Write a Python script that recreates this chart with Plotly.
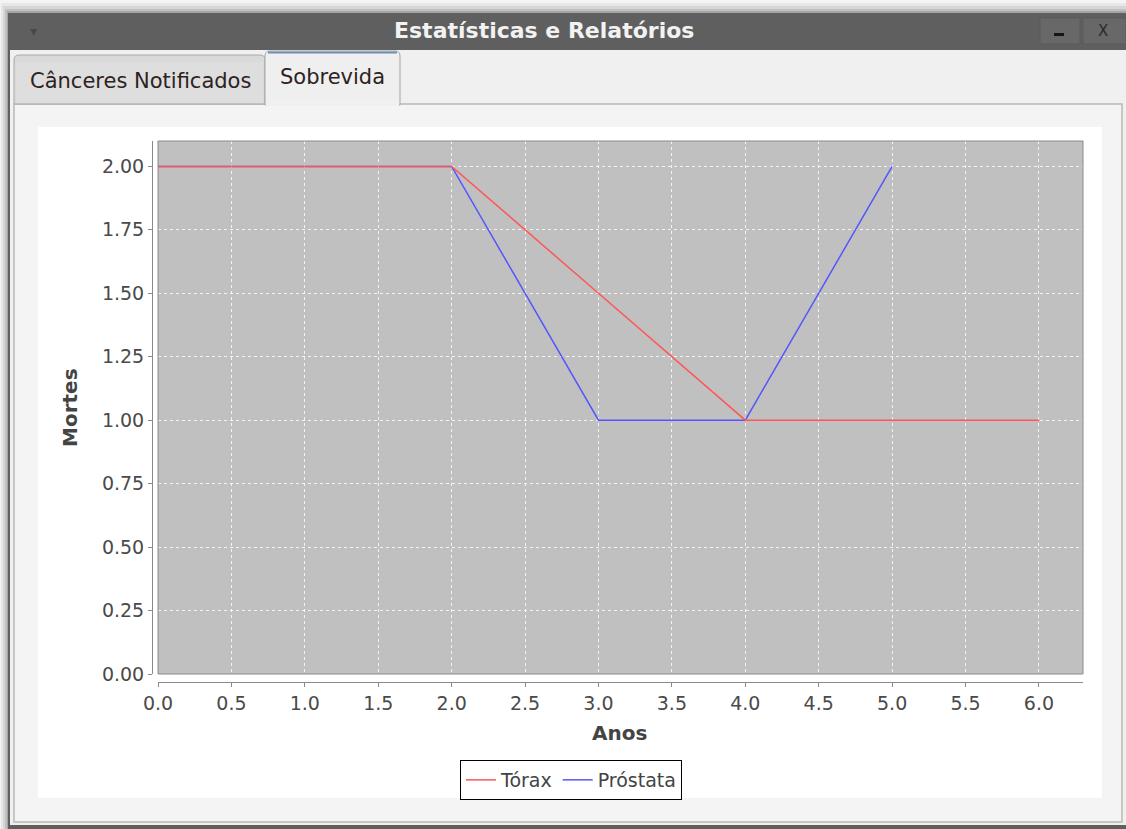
import plotly.graph_objects as go

# ---------------- data ----------------
anos_torax = [0, 1, 2, 3, 4, 5, 6]
mortes_torax = [2, 2, 2, 1.5, 1, 1, 1]
anos_prostata = [0, 1, 2, 3, 4, 5]
mortes_prostata = [2, 2, 2, 1, 1, 2]
series_names = ["Tórax", "Próstata"]
x_ticks = [0, 0.5, 1, 1.5, 2, 2.5, 3, 3.5, 4, 4.5, 5, 5.5, 6]
y_ticks = [0, 0.25, 0.5, 0.75, 1, 1.25, 1.5, 1.75, 2]

W, H = 1126, 829
FONT = "DejaVu Sans"


def X(px):
    return px / W


def Y(py):
    return 1 - py / H


shapes = []


def rect(x0, y0, x1, y1, fill, line=None, lw=0, layer="below"):
    shapes.append(dict(type="rect", xref="paper", yref="paper",
                       x0=X(x0), x1=X(x1), y0=Y(y1), y1=Y(y0),
                       fillcolor=fill, layer=layer,
                       line=dict(color=line or "rgba(0,0,0,0)", width=lw)))


def hline(x0, x1, y, color, lw=1, layer="below"):
    shapes.append(dict(type="line", xref="paper", yref="paper",
                       x0=X(x0), x1=X(x1), y0=Y(y), y1=Y(y),
                       line=dict(color=color, width=lw), layer=layer))


def tab_path(x0, y0, x1, y1, r=5):
    return (f"M {X(x0)},{Y(y1)} L {X(x0)},{Y(y0 + r)} "
            f"Q {X(x0)},{Y(y0)} {X(x0 + r)},{Y(y0)} "
            f"L {X(x1 - r)},{Y(y0)} Q {X(x1)},{Y(y0)} {X(x1)},{Y(y0 + r)} "
            f"L {X(x1)},{Y(y1)} Z")


# drop shadow around the window
rect(0, 0, W, H, "#f4f4f4")
rect(1, 3, W, H, "rgba(0,0,0,0.05)")
rect(3, 6, W, H, "rgba(0,0,0,0.07)")
rect(5, 9, W, H, "rgba(0,0,0,0.10)")
rect(7, 11, W, H, "rgba(0,0,0,0.14)")
# window frame / title bar
rect(8, 13, W, H, "#5f5f5f")
# content background
rect(10, 50, W, 825, "#f0f0f0")
rect(14, 104, 1122, 822, "#f4f4f4", line="#b9b9b1", lw=1.5)
# tabs
shapes.append(dict(type="path", xref="paper", yref="paper",
                   path=tab_path(14, 55, 265, 104), fillcolor="#d9d9d9",
                   line=dict(color="#a9a9a9", width=1), layer="below"))
rect(16, 62, 263, 103, "#dedede")
shapes.append(dict(type="path", xref="paper", yref="paper",
                   path=tab_path(265, 51, 400, 105), fillcolor="#efefef",
                   line=dict(color="#a5a5a5", width=1), layer="below"))
hline(268, 397, 52.5, "#6f8fb3", lw=2)
rect(266, 100, 399, 106, "#f0f0f0")
# white chart panel
rect(38, 127, 1102, 798, "#ffffff")
# plot area
rect(158, 141, 1083, 674, "#c0c0c0")

# window buttons
rect(1040, 18, 1080, 44, "#686868", line="#5a5a5a", lw=1)
rect(1083, 18, 1126, 44, "#686868", line="#5a5a5a", lw=1)
rect(1054, 33, 1064, 36, "#151515", layer="above")

# plot outline (above data)
rect(158, 141, 1083, 674, "rgba(0,0,0,0)", line="#8a8a8a", lw=1, layer="above")

annotations = [
    dict(text="<b>Estatísticas e Relatórios</b>", x=X(544), y=Y(31),
         font=dict(family=FONT, size=22, color="#f2f2f2")),
    dict(text="▾", x=X(33), y=Y(31), font=dict(family=FONT, size=14, color="#484848")),
    dict(text="X", x=X(1103), y=Y(31), font=dict(family=FONT, size=15, color="#2a2a2a")),
    dict(text="Cânceres Notificados", x=X(140), y=Y(81),
         font=dict(family=FONT, size=21, color="#2d2222")),
    dict(text="Sobrevida", x=X(332), y=Y(77),
         font=dict(family=FONT, size=21, color="#2d2222")),
    dict(text="<b>Anos</b>", x=X(619), y=Y(733),
         font=dict(family=FONT, size=20, color="#444444")),
    dict(text="<b>Mortes</b>", x=X(70), y=Y(408), textangle=-90,
         font=dict(family=FONT, size=20, color="#444444")),
]
for a in annotations:
    a.update(xref="paper", yref="paper", showarrow=False,
             xanchor="center", yanchor="middle")

fig = go.Figure()
fig.add_trace(go.Scatter(x=anos_prostata, y=mortes_prostata, mode="lines",
                         name=series_names[1], legendrank=2,
                         line=dict(color="#5555ff", width=1.5)))
fig.add_trace(go.Scatter(x=anos_torax, y=mortes_torax, mode="lines",
                         name=series_names[0], legendrank=1,
                         line=dict(color="#ff5555", width=1.5)))

axis_common = dict(showgrid=True, gridcolor="rgba(255,255,255,0.8)", griddash="3px,3px",
                   gridwidth=1, zeroline=False, showline=True, linecolor="#8a8a8a",
                   linewidth=1, ticks="outside", ticklen=4, tickcolor="#8a8a8a",
                   tickfont=dict(family=FONT, size=19, color="#4a4a4a"),
                   anchor="free", fixedrange=True, automargin=False)

fig.update_layout(
    template="none",
    width=W, height=H, autosize=False,
    margin=dict(l=0, r=0, t=0, b=0, pad=0, autoexpand=False),
    paper_bgcolor="#f6f6f6", plot_bgcolor="rgba(0,0,0,0)",
    xaxis=dict(domain=[X(158), X(1083)], range=[0, 6.3], tickvals=x_ticks,
               ticktext=[f"{v:.1f}" for v in x_ticks], position=Y(682), **axis_common),
    yaxis=dict(domain=[Y(674), Y(141)], range=[0, 2.1], tickvals=y_ticks,
               ticktext=[f"{v:.2f}" for v in y_ticks], position=X(152), **axis_common),
    shapes=shapes, annotations=annotations,
    showlegend=True,
    legend=dict(orientation="h", x=X(571), xanchor="center", y=Y(760), yanchor="top",
                bgcolor="#ffffff", bordercolor="#000000", borderwidth=1,
                font=dict(family=FONT, size=19, color="#444444"),
                itemwidth=30, tracegroupgap=0),
)

fig.write_html(
    "out.html",
    config={"displayModeBar": False},
    post_script="document.body.style.margin='0';document.body.style.padding='0';"
                "document.documentElement.style.overflow='hidden';"
                "document.body.style.overflow='hidden';",
)
